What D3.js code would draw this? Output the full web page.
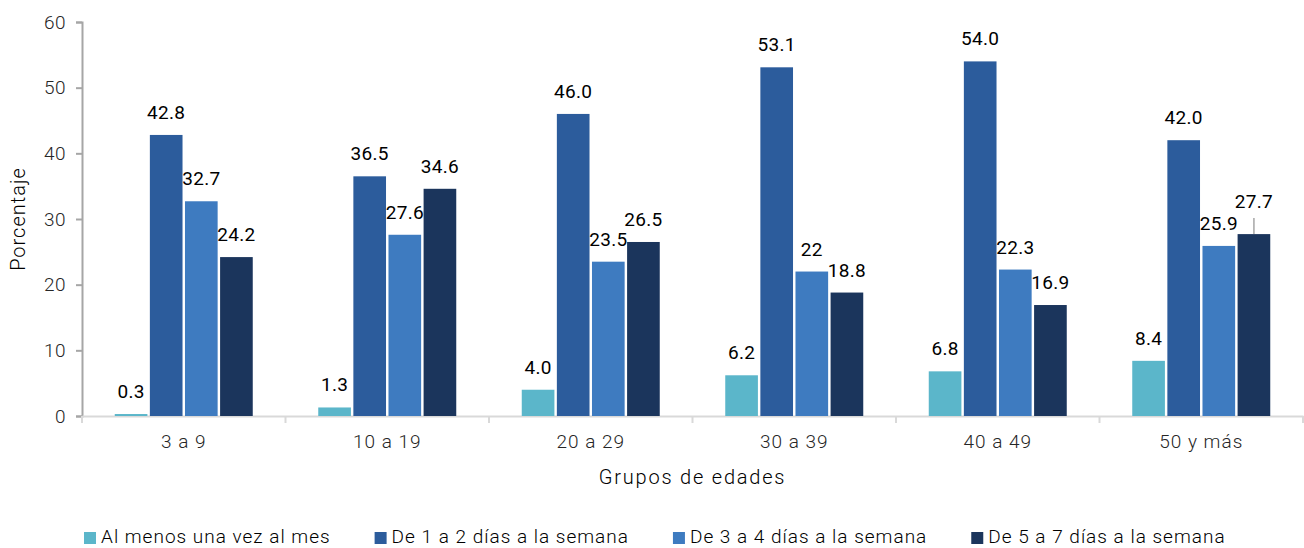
<!DOCTYPE html>
<html lang="es">
<head>
  <meta charset="UTF-8">
  <title>Frecuencia por grupos de edades</title>
  <script src="https://d3js.org/d3.v7.min.js"></script>
  <style>
    body { margin: 0; padding: 0; background: #fff; font-family: Roboto, Arial, sans-serif; }
    svg text { font-family: Roboto, Arial, sans-serif; }
  </style>
</head>
<body>
  <div id="chart"></div>
  <script>
    const categories = ["3 a 9", "10 a 19", "20 a 29", "30 a 39", "40 a 49", "50 y más"];
    const series = [
      "Al menos una vez al mes",
      "De 1 a 2 días a la semana",
      "De 3 a 4 días a la semana",
      "De 5 a 7 días a la semana"
    ];
    const alMenosMes = [0.3, 1.3, 4.0, 6.2, 6.8, 8.4];
    const de1a2 = [42.8, 36.5, 46.0, 53.1, 54.0, 42.0];
    const de3a4 = [32.7, 27.6, 23.5, 22, 22.3, 25.9];
    const de5a7 = [24.2, 34.6, 26.5, 18.8, 16.9, 27.7];
    const yTicks = [0, 10, 20, 30, 40, 50, 60];

    const values = [alMenosMes, de1a2, de3a4, de5a7];
    const colors = ["#5bb6ca", "#2c5c9c", "#3e7bc0", "#1b355c"];
    // the source prints 22 without a decimal
    const fmt = v => v === 22 ? "22" : v.toFixed(1);

    const W = 1304, H = 548;
    const m = { left: 82, right: 1, top: 22, bottom: 132 };

    const svg = d3.select("#chart").append("svg")
      .attr("width", W).attr("height", H);

    const x0 = d3.scaleBand().domain(categories).range([m.left, W - m.right]);
    const x1 = d3.scaleBand().domain(series)
      .range([x0.bandwidth() / 2 - 69, x0.bandwidth() / 2 + 69])
      .paddingInner(0.07);
    const y = d3.scaleLinear().domain([0, 60]).range([H - m.bottom, m.top]);

    // y axis
    const yAxis = svg.append("g")
      .attr("transform", `translate(${m.left},0)`)
      .call(d3.axisLeft(y).tickValues(yTicks).tickSize(6).tickPadding(10));
    yAxis.select(".domain").attr("stroke", "#a6a6a6").attr("stroke-width", 2);
    yAxis.selectAll(".tick line").attr("stroke", "#a6a6a6").attr("stroke-width", 2);
    yAxis.selectAll(".tick text")
      .attr("font-size", 19).attr("font-weight", 300).attr("fill", "#262626")
      .attr("letter-spacing", 0.5);

    // x axis
    const xAxis = svg.append("g")
      .attr("transform", `translate(0,${y(0)})`)
      .call(d3.axisBottom(x0).tickSize(0).tickPadding(19));
    xAxis.select(".domain").attr("stroke", "#d9d9d9").attr("stroke-width", 2);
    xAxis.selectAll(".tick text")
      .attr("font-size", 19).attr("font-weight", 300).attr("fill", "#262626")
      .attr("letter-spacing", 1);
    const bounds = categories.map(c => x0(c)).concat([x0(categories[categories.length - 1]) + x0.bandwidth()]);
    svg.append("g").selectAll("line").data(bounds).join("line")
      .attr("x1", d => d).attr("x2", d => d)
      .attr("y1", y(0)).attr("y2", y(0) + 7)
      .attr("stroke", "#d9d9d9").attr("stroke-width", 2);

    // bars
    const rows = [];
    categories.forEach((c, i) => {
      series.forEach((s, j) => rows.push({ c, s, j, v: values[j][i] }));
    });

    const g = svg.append("g");
    g.selectAll("rect").data(rows).join("rect")
      .attr("x", d => x0(d.c) + x1(d.s))
      .attr("y", d => y(d.v))
      .attr("width", x1.bandwidth())
      .attr("height", d => y(0) - y(d.v))
      .attr("fill", d => colors[d.j]);

    // data labels; the last group's 27.7 is lifted with a leader line
    const lifted = d => d.c === "50 y más" && d.j === 3;
    g.selectAll("line.leader").data(rows.filter(lifted)).join("line")
      .attr("class", "leader")
      .attr("x1", d => x0(d.c) + x1(d.s) + x1.bandwidth() / 2)
      .attr("x2", d => x0(d.c) + x1(d.s) + x1.bandwidth() / 2)
      .attr("y1", d => y(d.v) - 16)
      .attr("y2", d => y(d.v))
      .attr("stroke", "#a6a6a6").attr("stroke-width", 1.5);
    g.selectAll("text.lbl").data(rows).join("text")
      .attr("class", "lbl")
      .attr("x", d => x0(d.c) + x1(d.s) + x1.bandwidth() / 2)
      .attr("y", d => y(d.v) - (lifted(d) ? 26 : 16))
      .attr("text-anchor", "middle")
      .attr("font-size", 19).attr("fill", "#000").attr("letter-spacing", 0.3)
      .text(d => fmt(d.v));

    // axis titles
    svg.append("text")
      .attr("transform", `translate(25,${(y(0) + y(60)) / 2}) rotate(-90)`)
      .attr("text-anchor", "middle")
      .attr("font-size", 20).attr("font-weight", 300).attr("fill", "#000")
      .attr("letter-spacing", 1)
      .text("Porcentaje");
    svg.append("text")
      .attr("x", (m.left + W - m.right) / 2).attr("y", 484)
      .attr("text-anchor", "middle")
      .attr("font-size", 20).attr("font-weight", 300).attr("fill", "#000")
      .attr("letter-spacing", 1.8)
      .text("Grupos de edades");

    // legend
    const legend = svg.append("g").attr("transform", "translate(84,543)");
    let lx = 0;
    series.forEach((s, j) => {
      const item = legend.append("g").attr("transform", `translate(${lx},0)`);
      item.append("rect").attr("x", 0).attr("y", -11).attr("width", 12).attr("height", 12)
        .attr("fill", colors[j]);
      const t = item.append("text").attr("x", 17).attr("y", 0)
        .attr("font-size", 19).attr("font-weight", 300).attr("fill", "#000")
        .attr("letter-spacing", 1)
        .text(s);
      lx += 17 + t.node().getComputedTextLength() + 44;
    });
  </script>
</body>
</html>
